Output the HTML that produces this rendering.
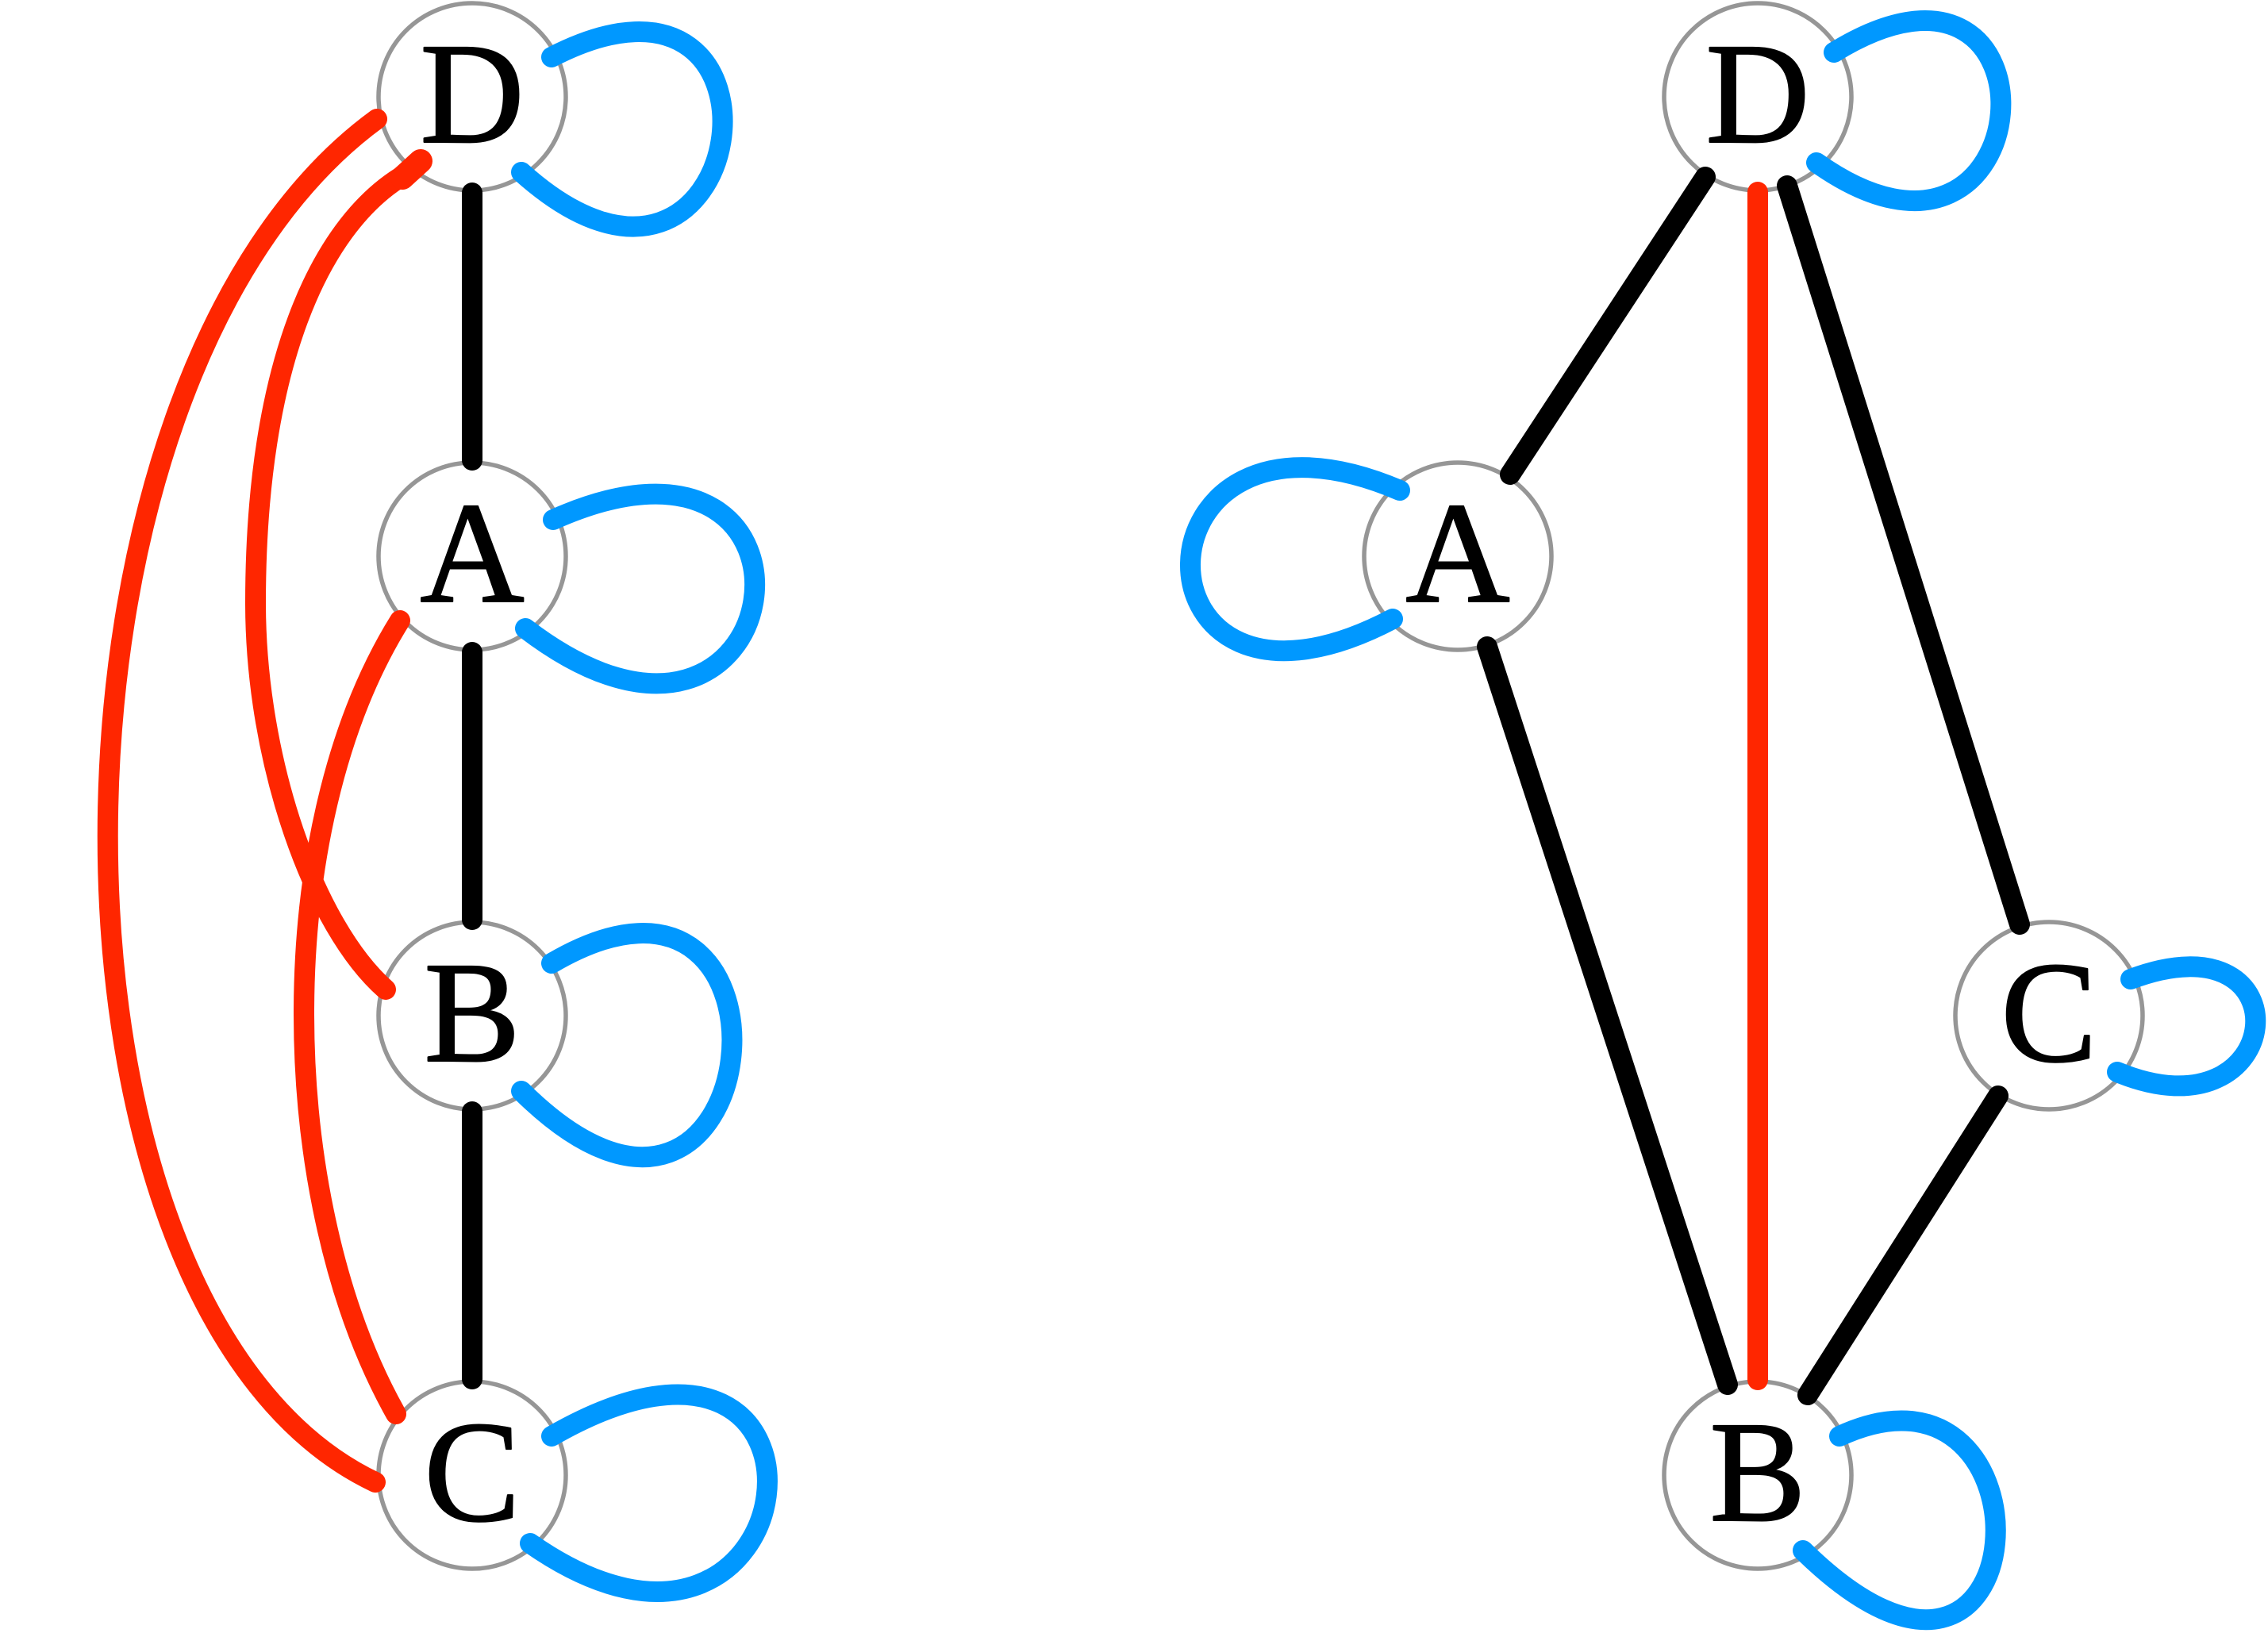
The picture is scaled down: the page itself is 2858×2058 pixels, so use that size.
<!DOCTYPE html>
<html>
<head>
<meta charset="utf-8">
<style>
  html, body { margin: 0; padding: 0; background: #ffffff; }
  body { width: 2858px; height: 2058px; overflow: hidden; }
  svg { display: block; }
  .node { fill: #ffffff; stroke: #969696; stroke-width: 5.5; }
  .lbl { font-family: "Liberation Serif", "Times New Roman", "Noto Serif CJK SC", serif; font-size: 182px; fill: #000; stroke: #000; stroke-width: 2; stroke-linejoin: round; text-anchor: middle; }
  .blk { stroke: #000000; stroke-width: 26; fill: none; stroke-linecap: round; stroke-linejoin: round; }
  .red { stroke: #ff2600; stroke-width: 26; fill: none; stroke-linecap: round; stroke-linejoin: round; }
  .blu { stroke: #0098ff; stroke-width: 26; fill: none; stroke-linecap: round; stroke-linejoin: round; }
</style>
</head>
<body>
<svg width="2858" height="2058" viewBox="0 0 2858 2058" xmlns="http://www.w3.org/2000/svg">
  <rect x="0" y="0" width="2858" height="2058" fill="#ffffff"/>

  <!-- LEFT GRAPH nodes -->
  <circle class="node" cx="595" cy="122" r="118"/>
  <circle class="node" cx="595" cy="701" r="118"/>
  <circle class="node" cx="595" cy="1280" r="118"/>
  <circle class="node" cx="595" cy="1859" r="118"/>
  <text class="lbl" font-family="Liberation Serif, Times New Roman, Noto Serif CJK SC, serif" x="595" y="179">D</text>
  <text class="lbl" font-family="Liberation Serif, Times New Roman, Noto Serif CJK SC, serif" x="595" y="758">A</text>
  <text class="lbl" font-family="Liberation Serif, Times New Roman, Noto Serif CJK SC, serif" x="595" y="1337">B</text>
  <text class="lbl" font-family="Liberation Serif, Times New Roman, Noto Serif CJK SC, serif" x="595" y="1916">C</text>

  <!-- LEFT GRAPH black edges -->
  <path class="blk" d="M595,243 L595,580"/>
  <path class="blk" d="M595,822 L595,1159"/>
  <path class="blk" d="M595,1401 L595,1738"/>

  <!-- LEFT GRAPH red edges -->
  <path class="red" d="M475,150 C23,480 23,1655 473,1868"/>
  <path class="red" d="M505,223 C403,287 322,460 322,760 C322,960 396,1168 486,1247"/>
  <path class="red" d="M530,203 L507,224" style="stroke-width:30"/>
  <path class="red" d="M504,782 C340,1045 347,1512 499,1782"/>

  <!-- LEFT GRAPH blue loops -->
  <path class="blu" d="M695,72 C1025,-98 947,477 657,217"/>
  <path class="blu" d="M697,655 C1077,485 1002,1052 662,792"/>
  <path class="blu" d="M695,1214 C1035,1014 970,1685 657,1375"/>
  <path class="blu" d="M695,1810 C1095,1580 1026,2195 668,1945"/>

  <!-- RIGHT GRAPH nodes -->
  <circle class="node" cx="2215" cy="122" r="118"/>
  <circle class="node" cx="1837" cy="701" r="118"/>
  <circle class="node" cx="2582" cy="1280" r="118"/>
  <circle class="node" cx="2215" cy="1859" r="118"/>
  <text class="lbl" font-family="Liberation Serif, Times New Roman, Noto Serif CJK SC, serif" x="2215" y="179">D</text>
  <text class="lbl" font-family="Liberation Serif, Times New Roman, Noto Serif CJK SC, serif" x="1837" y="758">A</text>
  <text class="lbl" font-family="Liberation Serif, Times New Roman, Noto Serif CJK SC, serif" x="2582" y="1337">C</text>
  <text class="lbl" font-family="Liberation Serif, Times New Roman, Noto Serif CJK SC, serif" x="2215" y="1916">B</text>

  <!-- RIGHT GRAPH black edges -->
  <path class="blk" d="M2149,223 L1903,598"/>
  <path class="blk" d="M2252,234 L2545,1165"/>
  <path class="blk" d="M1874,815 L2177,1745"/>
  <path class="blk" d="M2518,1381 L2278,1758"/>

  <!-- RIGHT GRAPH red edge -->
  <path class="red" d="M2215,242 L2215,1739"/>

  <!-- RIGHT GRAPH blue loops -->
  <path class="blu" d="M2311,66 C2611,-119 2578,410 2289,205"/>
  <path class="blu" d="M1764,618 C1414,468 1413,960 1755,780"/>
  <path class="blu" d="M2685,1234 C2910,1149 2884,1441 2668,1351"/>
  <path class="blu" d="M2318,1810 C2598,1680 2576,2252 2272,1954"/>
</svg>
</body>
</html>
